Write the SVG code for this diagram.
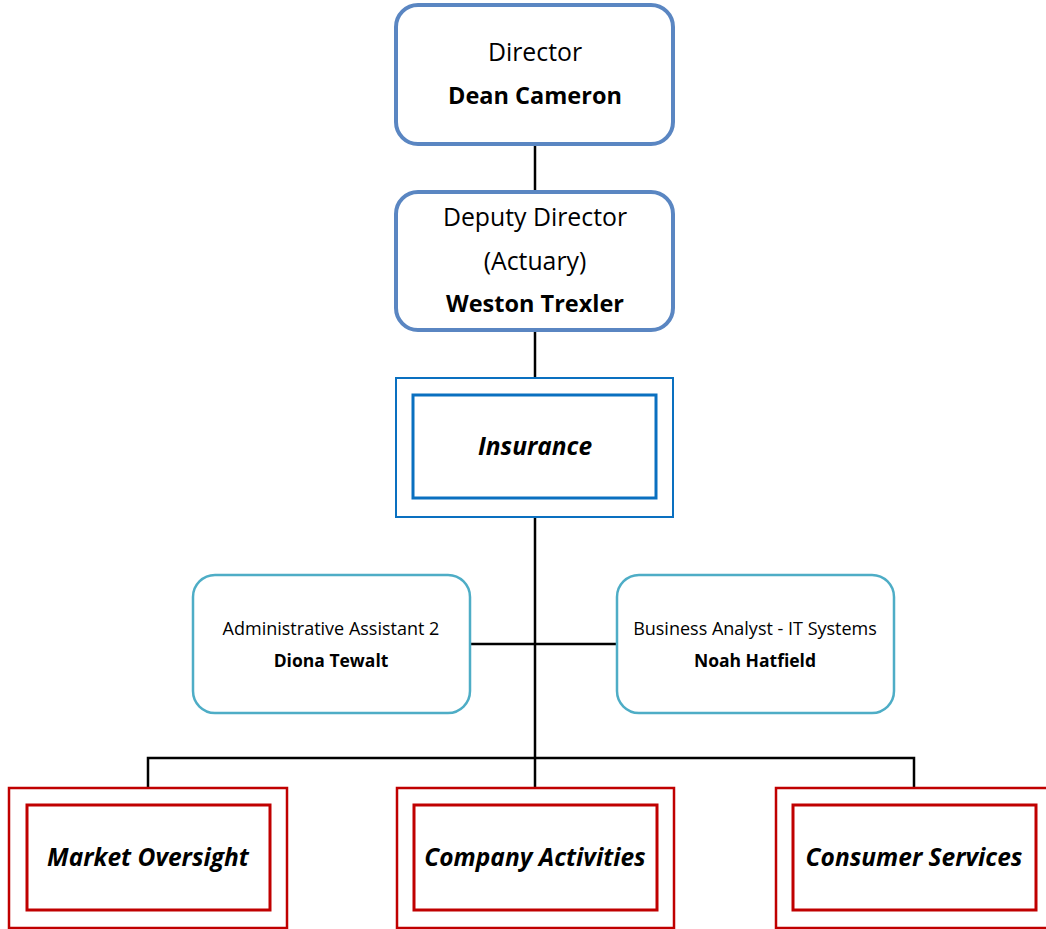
<svg xmlns="http://www.w3.org/2000/svg" width="1046" height="929" viewBox="0 0 1046 929">
<style>
text{font-family:"Open Sans","Noto Sans",sans-serif;fill:#000;text-anchor:middle}
.exec{fill:#fff;stroke:#5A86C2;stroke-width:4}
.staff{fill:#fff;stroke:#4EADC6;stroke-width:2.5}
.divo{fill:#fff;stroke:#0A70C0;stroke-width:2}
.divi{fill:none;stroke:#0A70C0;stroke-width:3}
.redo{fill:#fff;stroke:#C00000;stroke-width:2.5}
.redi{fill:none;stroke:#C00000;stroke-width:3}
.big{font-size:24.8px}
.bb{font-size:23.5px;font-weight:bold}
.bi{font-size:24.5px;font-weight:bold;font-style:italic}
.sm{font-size:18px}
.sb{font-size:17.5px;font-weight:bold}
.conn{stroke:#000;stroke-width:2.5;fill:none}
</style>
<g id="connectors">
<line class="conn" x1="535" y1="144" x2="535" y2="192"/>
<line class="conn" x1="535" y1="330" x2="535" y2="378"/>
<line class="conn" x1="535" y1="517" x2="535" y2="788"/>
<line class="conn" x1="470" y1="644" x2="617" y2="644"/>
<polyline class="conn" points="148,788 148,758 914,758 914,788"/>
</g>
<g id="director">
<rect class="exec" x="396" y="5" width="277" height="139" rx="22"/>
<text class="big" x="535" y="61">Director</text>
<text class="bb" x="535" y="104">Dean Cameron</text>
</g>
<g id="deputy">
<rect class="exec" x="396" y="192" width="277" height="138" rx="22"/>
<text class="big" x="535" y="226">Deputy Director</text>
<text class="big" x="535" y="270">(Actuary)</text>
<text class="bb" x="535" y="312">Weston Trexler</text>
</g>
<g id="insurance">
<rect class="divo" x="396" y="378" width="277" height="139"/>
<rect class="divi" x="413" y="395" width="243" height="103"/>
<text class="bi" x="535" y="455">Insurance</text>
</g>
<g id="admin">
<rect class="staff" x="193" y="575" width="277" height="138" rx="22"/>
<text class="sm" x="331" y="635">Administrative Assistant 2</text>
<text class="sb" x="331" y="667">Diona Tewalt</text>
</g>
<g id="analyst">
<rect class="staff" x="617" y="575" width="277" height="138" rx="22"/>
<text class="sm" x="755" y="635">Business Analyst - IT Systems</text>
<text class="sb" x="755" y="667">Noah Hatfield</text>
</g>
<g id="market">
<rect class="redo" x="9" y="788" width="278" height="140"/>
<rect class="redi" x="27" y="805" width="243" height="105"/>
<text class="bi" x="148" y="866">Market Oversight</text>
</g>
<g id="company">
<rect class="redo" x="397" y="788" width="277" height="140"/>
<rect class="redi" x="414" y="805" width="243" height="105"/>
<text class="bi" x="535" y="866">Company Activities</text>
</g>
<g id="consumer">
<rect class="redo" x="776" y="788" width="277" height="140"/>
<rect class="redi" x="793" y="805" width="243" height="105"/>
<text class="bi" x="914" y="866">Consumer Services</text>
</g>
</svg>
